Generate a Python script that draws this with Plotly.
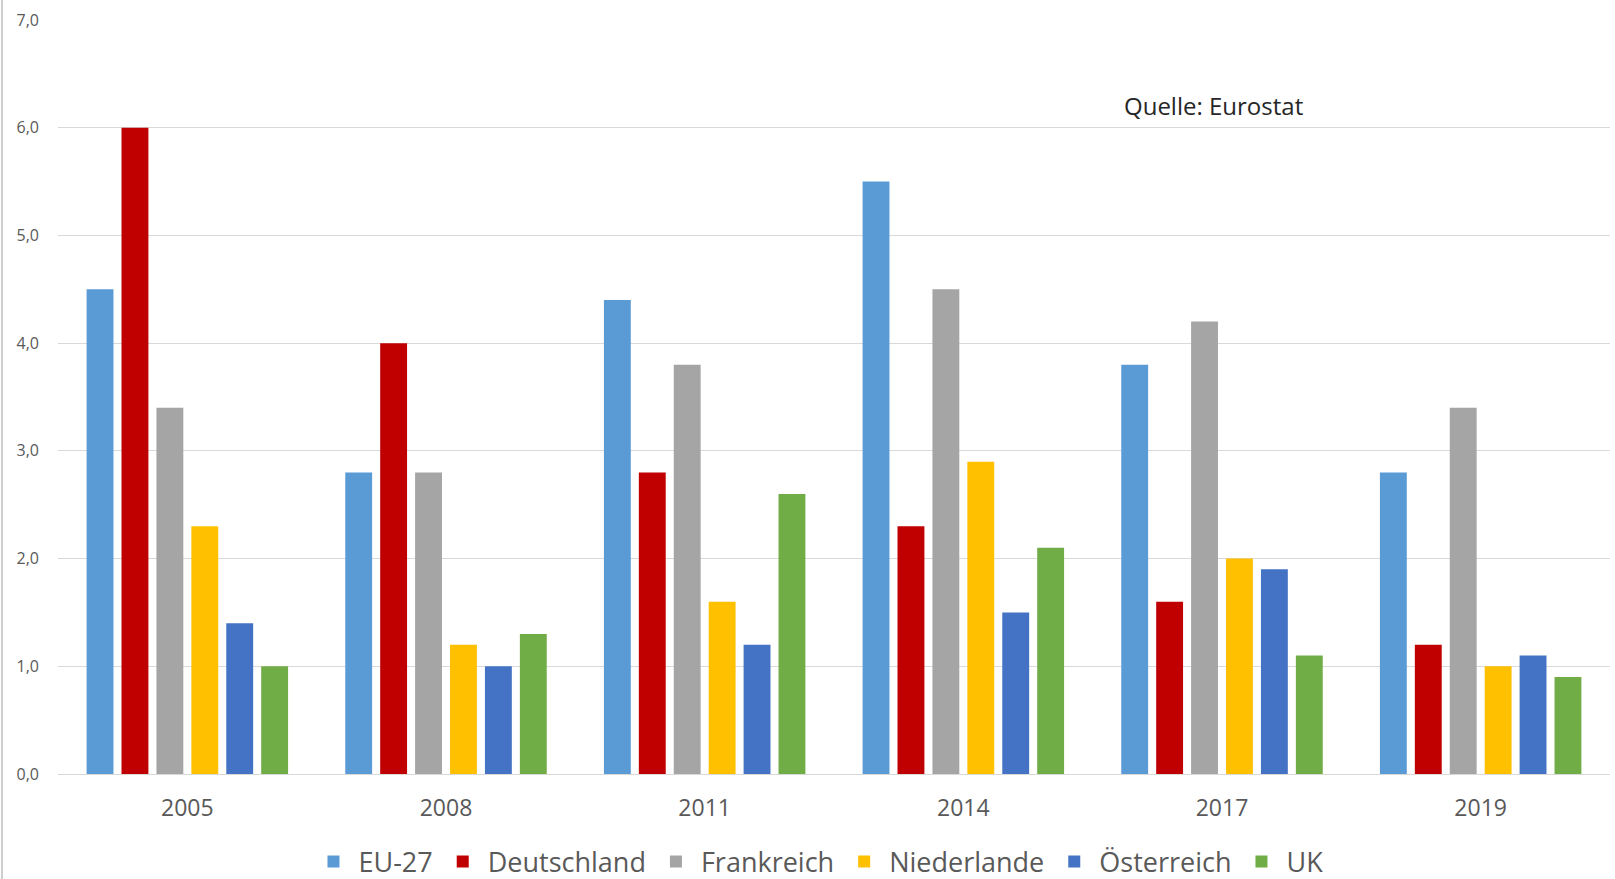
import plotly.graph_objects as go

years = ["2005", "2008", "2011", "2014", "2017", "2019"]
eu27 = [4.5, 2.8, 4.4, 5.5, 3.8, 2.8]
deutschland = [6.0, 4.0, 2.8, 2.3, 1.6, 1.2]
frankreich = [3.4, 2.8, 3.8, 4.5, 4.2, 3.4]
niederlande = [2.3, 1.2, 1.6, 2.9, 2.0, 1.0]
oesterreich = [1.4, 1.0, 1.2, 1.5, 1.9, 1.1]
uk = [1.0, 1.3, 2.6, 2.1, 1.1, 0.9]

series = [
    ("EU-27", eu27, "#5B9BD5"),
    ("Deutschland", deutschland, "#C00000"),
    ("Frankreich", frankreich, "#A5A5A5"),
    ("Niederlande", niederlande, "#FFC000"),
    ("Österreich", oesterreich, "#4472C4"),
    ("UK", uk, "#70AD47"),
]

fig = go.Figure()
for name, vals, col in series:
    fig.add_trace(go.Bar(x=years, y=vals, name=name, marker=dict(color=col, line=dict(width=0))))

W, H = 1615, 879
ml, mr, mt, mb = 58, 5, 20, 105
ph = H - mt - mb
fig.update_layout(
    width=W, height=H,
    margin=dict(l=ml, r=mr, t=mt, b=mb, autoexpand=False),
    paper_bgcolor="white", plot_bgcolor="white",
    barmode="group", bargap=0.19, bargroupgap=0.23,
    separators=",.",
    font=dict(family="Open Sans, sans-serif", color="#595959"),
    showlegend=True,
    legend=dict(orientation="h", x=0.49, xanchor="center", y=-(862 - 774) / ph, yanchor="middle",
                font=dict(size=27, color="#595959"), traceorder="normal", itemwidth=40),
    xaxis=dict(type="category", showgrid=False, showline=False, ticks="",
               tickfont=dict(size=23, color="#595959"), ticklabelstandoff=18),
    yaxis=dict(range=[0, 7], dtick=1, tickformat=".1f", showgrid=True, gridcolor="#D9D9D9",
               gridwidth=1, zeroline=True, zerolinecolor="#D9D9D9", zerolinewidth=1,
               showline=False, ticks="", tickfont=dict(size=16, color="#595959"),
               ticklabelstandoff=18),
    annotations=[dict(text="Quelle: Eurostat", xref="paper", yref="y", x=(1122 - ml) / (W - ml - mr),
                      y=6.21, xanchor="left", yanchor="middle", showarrow=False,
                      font=dict(size=24, color="#262626"))],
    shapes=[dict(type="line", xref="paper", yref="paper", x0=(2 - ml) / (W - ml - mr), x1=(2 - ml) / (W - ml - mr),
                 y0=-mb / ph, y1=1 + mt / ph, line=dict(color="#BFBFBF", width=1.5))],
)

fig.write_html("out.html")
